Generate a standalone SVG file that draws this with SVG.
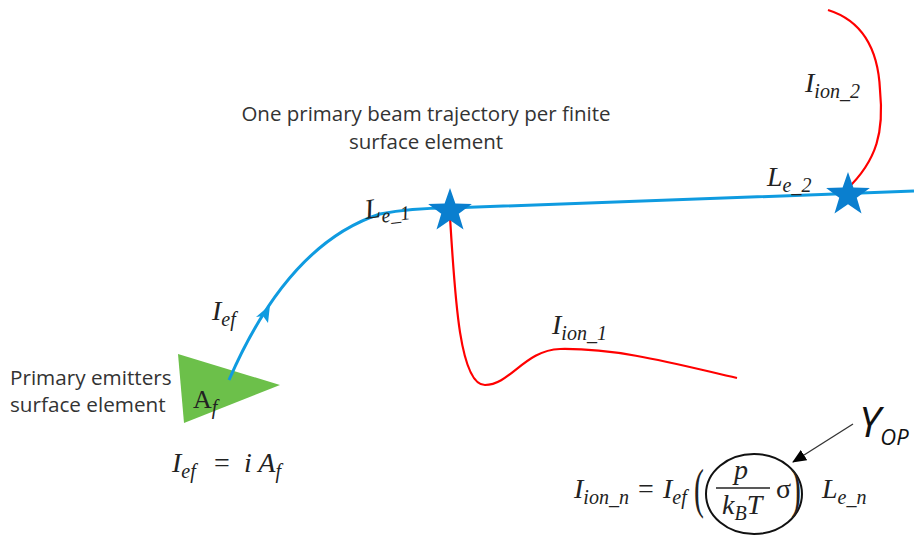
<svg xmlns="http://www.w3.org/2000/svg" width="914" height="536" viewBox="0 0 914 536">
<style>
.lbl{font-family:"Open Sans","Noto Sans",sans-serif;font-size:20.5px;fill:#333}
.m{font-family:"Liberation Serif","DejaVu Serif",serif;font-style:italic;font-size:28px;fill:#222}
.r{font-family:"Liberation Serif","DejaVu Serif",serif;font-size:28px;fill:#222}
.s{font-size:20px}
.beam{fill:none;stroke:#0f9be0;stroke-width:3}
.ion{fill:none;stroke:#f00;stroke-width:2.2}
.star{fill:#0a7fcf}
</style>
<defs>
<path id="star" d="M0,-23 L5.4,-7.44 L21.87,-7.1 L8.75,2.84 L13.52,18.6 L0,9.2 L-13.52,18.6 L-8.75,2.84 L-21.87,-7.1 L-5.4,-7.44 Z"/>
<marker id="ah" markerWidth="14" markerHeight="12" refX="13" refY="6" orient="auto" markerUnits="userSpaceOnUse">
<path d="M0,0 L14,6 L0,12 Z" fill="#000"/>
</marker>
</defs>
<g id="emitter">
<polygon points="178,354 280,385 184,423" fill="#6cc04a"/>
<text class="r" x="193" y="408" style="font-size:26px">A<tspan class="m s" dy="6">f</tspan></text>
<text class="lbl" x="10" y="385" style="font-size:20.7px">Primary emitters</text>
<text class="lbl" x="10" y="412" style="font-size:20.7px">surface element</text>
</g>
<g id="connectors">
<path class="beam" d="M229,380 C255,320 300,240 380,214 Q410,208 450,208 C600,203 800,195 914,191"/>
<path d="M256,317 L270,305 L268,323 L263,316 Z" fill="#0f9be0"/>
<path class="ion" d="M450,217 C455,300 460,385 485,385 C510,385 525,350 560,349 C620,348 680,365 737,378"/>
<path class="ion" d="M828,10 C860,20 878,45 880,90 C884,130 878,160 846,190"/>
<line x1="853" y1="424" x2="793" y2="462" stroke="#333" stroke-width="1.3" marker-end="url(#ah)"/>
</g>
<g id="star1"><use href="#star" class="star" transform="translate(450,211)"/></g>
<g id="star2"><use href="#star" class="star" transform="translate(848,195)"/></g>
<g id="title">
<text class="lbl" x="426" y="121" text-anchor="middle">One primary beam trajectory per finite</text>
<text class="lbl" x="426" y="149" text-anchor="middle">surface element</text>
</g>
<g id="labels">
<text class="m" x="366" y="219" transform="rotate(-8 366 219)">L<tspan class="s" dy="6">e_1</tspan></text>
<text class="m" x="767" y="186">L<tspan class="s" dy="6">e_2</tspan></text>
<text class="m" x="212" y="320">I<tspan class="s" dy="6">ef</tspan></text>
<text class="m" x="552" y="334">I<tspan class="s" dy="6">ion_1</tspan></text>
<text class="m" x="805" y="92">I<tspan class="s" dy="6">ion_2</tspan></text>
<text class="m" x="172" y="472">I<tspan class="s" dy="6">ef</tspan></text>
<text class="r" x="214" y="472">=</text>
<text class="m" x="244" y="472">i A<tspan class="s" dy="6">f</tspan></text>
</g>
<g id="formula">
<ellipse cx="754" cy="494" rx="48" ry="40" fill="none" stroke="#111" stroke-width="2"/>
<text class="m" x="574" y="498">I<tspan class="s" dy="6">ion_n</tspan></text>
<text class="r" x="638" y="498">=</text>
<text class="m" x="663" y="498">I<tspan class="s" dy="6">ef</tspan></text>
<text class="r" x="0" y="0" style="font-size:54px" transform="translate(694,507) scale(0.55,1)">(</text>
<text class="m" x="734" y="479">p</text>
<line x1="716" y1="488" x2="770" y2="488" stroke="#222" stroke-width="1.5"/>
<text class="m" x="722" y="514">k<tspan class="s" dy="6">B</tspan><tspan dy="-6">T</tspan></text>
<text class="r" x="776" y="498">σ</text>
<text class="r" x="0" y="0" style="font-size:54px" transform="translate(791,507) scale(0.55,1)">)</text>
<text class="m" x="822" y="498">L<tspan class="s" dy="6">e_n</tspan></text>
<text x="859" y="437" font-family="Open Sans,sans-serif" font-style="italic" font-size="42" fill="#111">Y<tspan font-size="22" dy="8">OP</tspan></text>
</g>
</svg>
